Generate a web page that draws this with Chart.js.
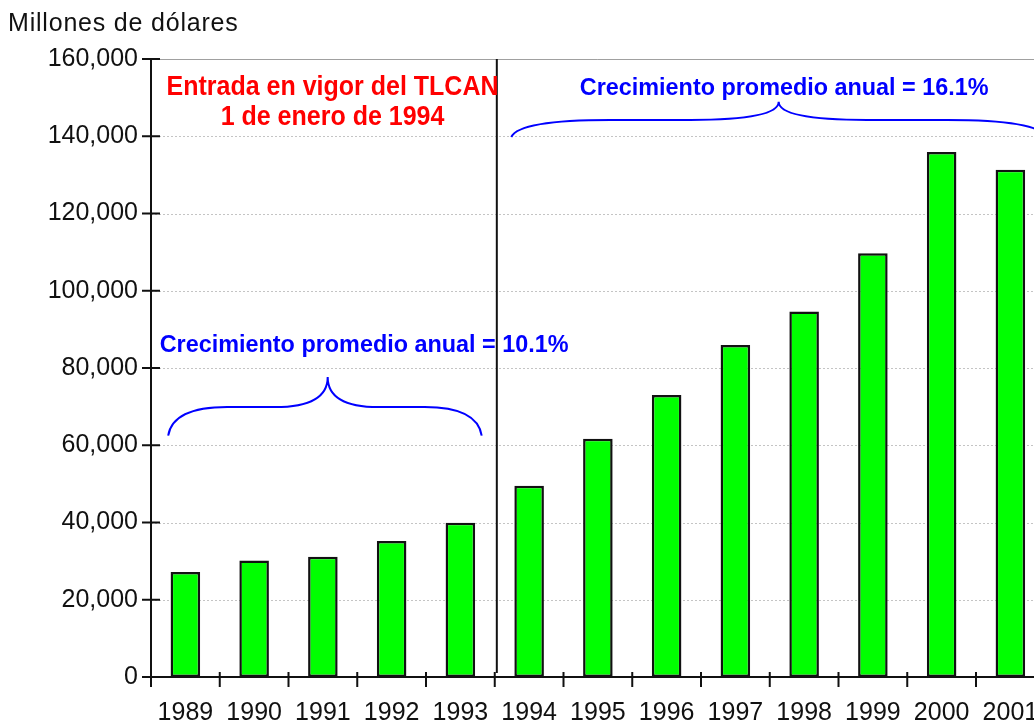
<!DOCTYPE html>
<html>
<head>
<meta charset="utf-8">
<script src="https://cdn.jsdelivr.net/npm/chart.js@4.4.1/dist/chart.umd.min.js"></script>
<style>
  html, body { margin: 0; padding: 0; background: #fff; overflow: hidden; }
  #wrap { width: 1050px; height: 723px; }
  canvas { display: block; }
</style>
</head>
<body>
<div id="wrap"><canvas id="exportsChart" width="1050" height="723" style="width:1050px;height:723px"></canvas></div>
<script>
// Exportaciones de México a EE.UU., millones de dólares
const years = ['1989','1990','1991','1992','1993','1994','1995','1996','1997','1998','1999','2000','2001'];
const exportsUSD = [27162, 30157, 31130, 35211, 39917, 49494, 61685, 73039, 85938, 94629, 109721, 135926, 131338];
const yTicks = [0, 20000, 40000, 60000, 80000, 100000, 120000, 140000, 160000];

const unitLabel = 'Millones de dólares';
const naftaNote = ['Entrada en vigor del TLCAN', '1 de enero de 1994'];
const growthBefore = 'Crecimiento promedio anual = 10.1%';
const growthAfter = 'Crecimiento promedio anual = 16.1%';

// annotation anchors in data units (category index, value)
const naftaDivider = 4.53;
const braceBefore = { from: -0.25, peak: 2.07, to: 4.31, base: 62500, flat: 69900, top: 77700 };
const braceAfter = { from: 4.74, peak: 8.63, to: 12.52, base: 139800, flat: 144200, top: 148900 };
const noteAt = { x: 2.14, y1: 150700, y2: 142900 };
const growthBeforeAt = { x: 2.6, y: 84100 };
const growthAfterAt = { x: 8.71, y: 150700 };

const FONT = '"Liberation Sans", Arial, sans-serif';
const INK = '#111';

function drawBrace(ctx, x, y, b) {
  const xa = x.getPixelForValue(b.from), xp = x.getPixelForValue(b.peak), xb = x.getPixelForValue(b.to);
  const yb = y.getPixelForValue(b.base), yf = y.getPixelForValue(b.flat), yp = y.getPixelForValue(b.top);
  const hl = xp - xa, hr = xb - xp;
  ctx.beginPath();
  ctx.moveTo(xa, yb);
  ctx.quadraticCurveTo(xa + 0.03 * hl, yf, xa + 0.37 * hl, yf);
  ctx.lineTo(xa + 0.67 * hl, yf);
  ctx.quadraticCurveTo(xp, yf, xp, yp);
  ctx.quadraticCurveTo(xp, yf, xb - 0.67 * hr, yf);
  ctx.lineTo(xb - 0.37 * hr, yf);
  ctx.quadraticCurveTo(xb - 0.03 * hr, yf, xb, yb);
  ctx.stroke();
}

function stretchedText(ctx, text, cx, baseline, sy) {
  ctx.save();
  ctx.translate(cx, baseline);
  ctx.scale(1, sy);
  ctx.fillText(text, 0, 0);
  ctx.restore();
}

const gridLines = {
  id: 'gridLines',
  beforeDatasetsDraw(chart) {
    const { ctx, chartArea: a, scales: { y } } = chart;
    ctx.save();
    ctx.lineWidth = 1;
    yTicks.slice(1).forEach(v => {
      const py = Math.round(y.getPixelForValue(v)) + 0.5;
      const last = v === yTicks[yTicks.length - 1];
      ctx.strokeStyle = last ? '#a0a0a0' : '#c4c4c4';
      ctx.setLineDash(last ? [] : [2, 2]);
      ctx.beginPath();
      ctx.moveTo(a.left, py);
      ctx.lineTo(a.right, py);
      ctx.stroke();
    });
    ctx.restore();
  }
};

const decor = {
  id: 'decor',
  afterDraw(chart) {
    const { ctx, chartArea: a, scales: { x, y } } = chart;
    ctx.save();

    // axes and tick marks
    ctx.strokeStyle = INK;
    ctx.lineWidth = 2;
    ctx.beginPath();
    ctx.moveTo(a.left, y.getPixelForValue(160000));
    ctx.lineTo(a.left, a.bottom + 10);
    ctx.moveTo(a.left - 9, a.bottom);
    ctx.lineTo(a.right, a.bottom);
    yTicks.forEach(v => {
      const py = y.getPixelForValue(v);
      ctx.moveTo(a.left - 9, py);
      ctx.lineTo(a.left + 9, py);
    });
    for (let i = 1; i <= years.length; i++) {
      const px = x.getPixelForValue(i - 0.5);
      ctx.moveTo(px, a.bottom - 5);
      ctx.lineTo(px, a.bottom + 10);
    }
    ctx.stroke();

    // NAFTA divider
    const dx = x.getPixelForValue(naftaDivider);
    ctx.beginPath();
    ctx.moveTo(dx, a.top);
    ctx.lineTo(dx, a.bottom - 4);
    ctx.stroke();

    // braces
    ctx.strokeStyle = '#0000ff';
    ctx.lineWidth = 2;
    drawBrace(ctx, x, y, braceBefore);
    drawBrace(ctx, x, y, braceAfter);

    // unit label
    ctx.fillStyle = INK;
    ctx.font = '25px ' + FONT;
    ctx.textAlign = 'left';
    ctx.textBaseline = 'alphabetic';
    ctx.letterSpacing = '0.8px';
    ctx.fillText(unitLabel, 8, 31);
    ctx.letterSpacing = '0px';

    // red note
    ctx.fillStyle = '#ff0000';
    ctx.font = 'bold 25px ' + FONT;
    ctx.textAlign = 'center';
    const nx = x.getPixelForValue(noteAt.x);
    stretchedText(ctx, naftaNote[0], nx, y.getPixelForValue(noteAt.y1), 1.12);
    stretchedText(ctx, naftaNote[1], nx, y.getPixelForValue(noteAt.y2), 1.12);

    // growth labels
    ctx.fillStyle = '#0000ff';
    ctx.font = 'bold 23.4px ' + FONT;
    ctx.fillText(growthBefore, x.getPixelForValue(growthBeforeAt.x), y.getPixelForValue(growthBeforeAt.y));
    ctx.fillText(growthAfter, x.getPixelForValue(growthAfterAt.x), y.getPixelForValue(growthAfterAt.y));

    ctx.restore();
  }
};

new Chart(document.getElementById('exportsChart'), {
  type: 'bar',
  data: {
    labels: years,
    datasets: [{
      label: unitLabel,
      data: exportsUSD,
      backgroundColor: '#00ff00',
      borderColor: INK,
      borderWidth: 2.5,
      borderSkipped: false,
      categoryPercentage: 1,
      barPercentage: 0.43
    }]
  },
  options: {
    responsive: false,
    animation: false,
    layout: { padding: { left: 0, top: 59, right: 5.25, bottom: 0 } },
    plugins: { legend: { display: false }, tooltip: { enabled: false } },
    scales: {
      x: {
        offset: true,
        grid: { display: false, drawTicks: false },
        border: { display: false },
        ticks: {
          color: INK,
          font: { family: FONT, size: 25 },
          padding: 21,
          maxRotation: 0,
          autoSkip: false
        },
        afterFit(s) {
          s.height = 46;
          s.paddingLeft = 0;
          s.paddingRight = 0;
        }
      },
      y: {
        min: 0,
        max: 160000,
        grid: { display: false, drawTicks: false },
        border: { display: false },
        afterBuildTicks(s) { s.ticks = yTicks.map(v => ({ value: v })); },
        ticks: {
          color: INK,
          font: { family: FONT, size: 25 },
          padding: 13,
          callback: v => v.toLocaleString('en-US')
        },
        afterFit(s) { s.width = 151; }
      }
    }
  },
  plugins: [gridLines, decor]
});
</script>
</body>
</html>
